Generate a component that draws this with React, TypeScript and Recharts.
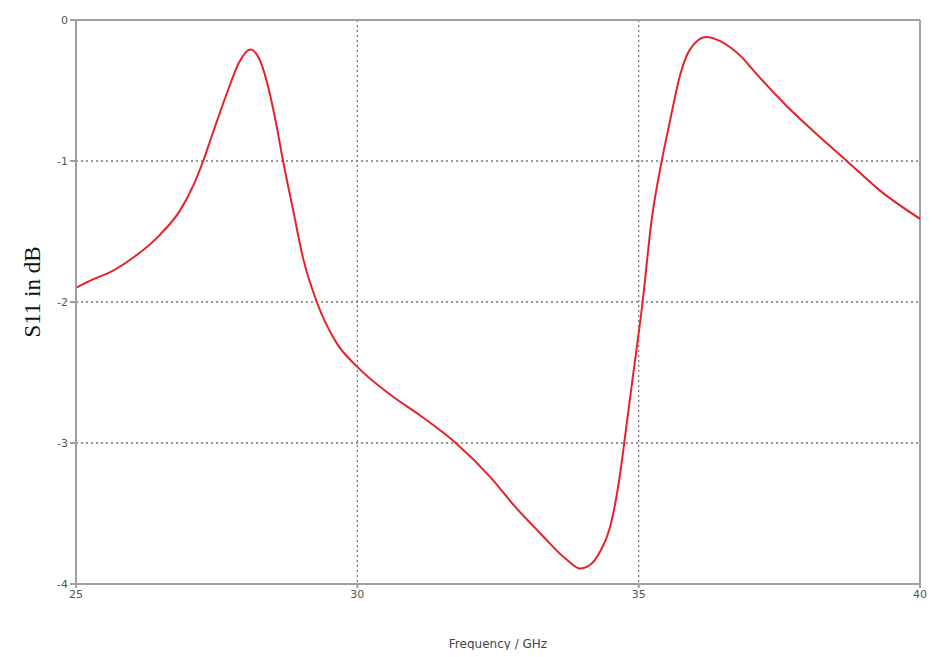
import React from 'react';
import { LineChart, Line, XAxis, YAxis, CartesianGrid, ReferenceLine, Label } from 'recharts';

// S11 curve
const freq = [
    25.0, 25.3, 25.6, 26.0, 26.5, 26.85, 27.1, 27.26, 27.45, 27.7, 27.9, 28.1, 28.25, 28.4, 28.55,
    28.68, 28.86, 29.03, 29.28, 29.63, 30.0, 30.63, 31.1, 31.75, 32.36, 32.8, 33.25, 33.73, 33.96,
    34.15, 34.3, 34.49, 34.67, 34.76, 34.88, 35.07, 35.23, 35.41, 35.56, 35.73, 35.91, 36.2, 36.45,
    36.65, 36.85, 37.0, 37.63, 38.22, 38.7, 39.29, 40.0,
];
const s11 = [
    -1.9, -1.84, -1.79, -1.69, -1.52, -1.35, -1.16, -1.0, -0.78, -0.5, -0.3, -0.21, -0.27, -0.45, -0.72,
    -1.0, -1.35, -1.68, -2.0, -2.29, -2.46, -2.67, -2.8, -3.0, -3.24, -3.45, -3.64, -3.83, -3.89,
    -3.86, -3.78, -3.6, -3.22, -2.95, -2.58, -2.0, -1.42, -1.0, -0.71, -0.4, -0.21, -0.12, -0.15,
    -0.2, -0.27, -0.34, -0.61, -0.83, -1.0, -1.21, -1.41,
];
const xTicks = [25, 30, 35, 40];
const yTicks = [0, -1, -2, -3, -4];

const data = freq.map((f, i) => ({ f, s: s11[i] }));

const tickStyle = { fontFamily: 'DejaVu Sans', fontSize: 11, fill: '#555' };
const axisGray = '#a0a0a0';

const YTitle = ({ viewBox }: any) => {
    const x = 32;
    const y = viewBox.y + viewBox.height / 2 - 10;
    return (
        <text
            x={x}
            y={y}
            transform={`rotate(-90, ${x}, ${y})`}
            textAnchor="middle"
            dominantBaseline="central"
            fontFamily="Liberation Serif"
            fontSize={23}
            fill="#111"
        >
            S11 in dB
        </text>
    );
};

const App = () => {
    return (
        <div style={{ position: 'absolute', left: 0, top: 0, background: '#fff' }}>
            <LineChart width={932} height={650} data={data} margin={{ top: 20, right: 12, left: 0, bottom: 0 }}>
                <CartesianGrid stroke="#777" strokeDasharray="2 3" strokeWidth={1.3} />
                <XAxis
                    dataKey="f"
                    type="number"
                    domain={[25, 40]}
                    ticks={xTicks}
                    height={66}
                    stroke={axisGray}
                    strokeWidth={2}
                    tickSize={4}
                    tick={tickStyle}
                    tickLine={{ stroke: axisGray }}
                    allowDataOverflow
                >
                    <Label
                        value="Frequency / GHz"
                        position="insideBottom"
                        offset={2}
                        style={{ fontFamily: 'DejaVu Sans', fontSize: 12, fill: '#444' }}
                    />
                </XAxis>
                <YAxis
                    type="number"
                    domain={[-4, 0]}
                    ticks={yTicks}
                    width={76}
                    stroke={axisGray}
                    strokeWidth={2}
                    tickSize={6}
                    tick={tickStyle}
                    tickLine={{ stroke: axisGray }}
                    allowDataOverflow
                >
                    <Label content={YTitle} />
                </YAxis>
                <ReferenceLine y={0} stroke={axisGray} strokeWidth={2} />
                <ReferenceLine x={40} stroke={axisGray} strokeWidth={2} />
                <Line
                    type="monotone"
                    dataKey="s"
                    stroke="#e8202a"
                    strokeWidth={2}
                    dot={false}
                    isAnimationActive={false}
                />
            </LineChart>
        </div>
    );
};

export default App;
